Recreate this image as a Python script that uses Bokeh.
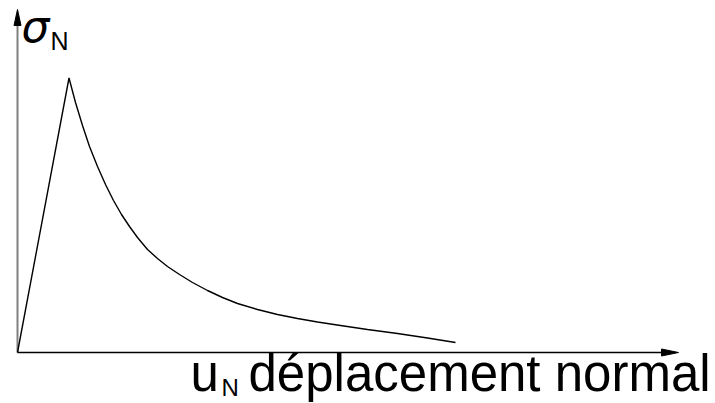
from bokeh.plotting import figure
from bokeh.models import Range1d
from bokeh.core.properties import value
from bokeh.embed import file_html
from bokeh.resources import INLINE

# Normal displacement (arbitrary units) and normal stress (arbitrary units)
u_N = [0, 51.5, 58, 65, 72, 80, 88, 96, 104, 112, 120, 130, 140, 150, 162, 175,
       190, 205, 220, 240, 260, 280, 300, 323, 350, 380, 410, 438]
sigma_N = [0, 274.5, 250, 227, 206, 186, 168, 152, 138, 126, 115, 103, 94, 86, 78, 70,
           62, 55, 49, 43, 38, 34, 30.5, 27, 23, 19, 14.5, 10]

x_axis_end = 661
y_axis_end = 343

W, H = 715, 403
p = figure(width=W, height=H, output_backend="svg", toolbar_location=None,
           x_range=Range1d(-17, -17 + W), y_range=Range1d(352 - H, 352),
           min_border=0, outline_line_color=None)
p.axis.visible = False
p.grid.visible = False
p.background_fill_color = "white"
p.border_fill_color = "white"

# axes
p.line([0, 0], [0, y_axis_end - 14], line_color="#808080", line_width=2)
p.patch([-3.5, 3.5, 0], [y_axis_end - 16, y_axis_end - 16, y_axis_end],
        fill_color="black", line_color="black", line_width=1)
p.line([0, x_axis_end - 14], [0, 0], line_color="black", line_width=1.3)
p.patch([x_axis_end - 17, x_axis_end - 17, x_axis_end], [3.5, -3.5, 0],
        fill_color="black", line_color="black", line_width=1)

# curve
p.line(u_N, sigma_N, line_color="black", line_width=1.4)

# labels
p.text(x=[4], y=[326], text=["σ"], text_font=value("DejaVu Sans"),
       text_font_style="italic", text_font_size="44px", text_color="black",
       text_baseline="alphabetic", text_align="left")
p.text(x=[33], y=[312], text=["N"], text_font=value("Liberation Sans"),
       text_font_size="25px", text_color="black",
       text_baseline="alphabetic", text_align="left")
p.text(x=[173], y=[-21], text=["u"], text_font=value("Liberation Sans"),
       text_font_size="51px", text_color="black",
       text_baseline="alphabetic", text_align="left")
p.text(x=[204], y=[-35], text=["N"], text_font=value("Liberation Sans"),
       text_font_size="24px", text_color="black",
       text_baseline="alphabetic", text_align="left")
p.text(x=[231], y=[-21], text=["déplacement normal"], text_font=value("Liberation Sans"),
       text_font_size="51px", text_color="black",
       text_baseline="alphabetic", text_align="left")

open("out.html", "w").write(file_html(p, INLINE))
